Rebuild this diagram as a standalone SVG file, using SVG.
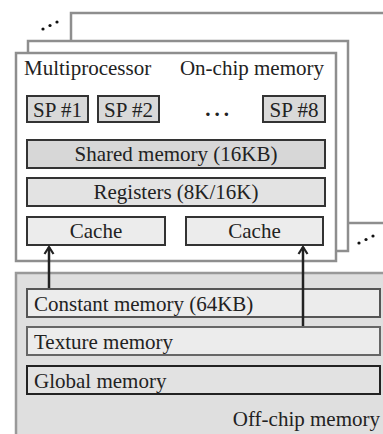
<svg xmlns="http://www.w3.org/2000/svg" width="383" height="434" viewBox="0 0 383 434" font-family="'Liberation Serif', 'Times New Roman', serif">
  <defs>
    <style>
      text { font-family: 'Liberation Serif', 'Times New Roman', serif; font-size: 21px; fill: #222; }
      .frame { fill: #fff; stroke: #8e8e8e; stroke-width: 2.5; }
      .box { stroke: #333; stroke-width: 2; }
      .dot { fill: #111; }
      .conn { stroke: #222; stroke-width: 2.5; fill: none; }
    </style>
    <marker id="arr" viewBox="0 0 12 12" refX="10" refY="6" markerWidth="12" markerHeight="12" markerUnits="userSpaceOnUse" orient="auto">
      <polyline points="3,1.5 10,6 3,10.5" fill="none" stroke="#222" stroke-width="2.2"/>
    </marker>
  </defs>

  <g id="offchip">
    <rect x="16" y="273" width="380" height="170" fill="#dfdfdf" stroke="#999" stroke-width="2.5"/>
    <text x="380" y="426" text-anchor="end">Off-chip memory</text>
  </g>

  <g id="frame-back">
    <rect class="frame" x="71" y="13" width="330" height="210"/>
    <circle class="dot" cx="359" cy="243" r="1.6"/>
    <circle class="dot" cx="366" cy="239.5" r="1.6"/>
    <circle class="dot" cx="373" cy="236" r="1.6"/>
  </g>
  <g id="frame-middle">
    <rect class="frame" x="28" y="41" width="320" height="210"/>
    <circle class="dot" cx="43" cy="29" r="1.6"/>
    <circle class="dot" cx="50" cy="25.5" r="1.6"/>
    <circle class="dot" cx="57" cy="22" r="1.6"/>
  </g>
  <g id="multiprocessor">
    <rect class="frame" x="16" y="53" width="320" height="208"/>
    <text x="24" y="75">Multiprocessor</text>
    <text x="324" y="75" text-anchor="end">On-chip memory</text>
  </g>

  <g id="sp1">
    <rect class="box" x="27" y="96" width="61" height="26" fill="#d9d9d9"/>
    <text x="57.5" y="117" text-anchor="middle">SP #1</text>
  </g>
  <g id="sp2">
    <rect class="box" x="98" y="96" width="61" height="26" fill="#d9d9d9"/>
    <text x="128.5" y="117" text-anchor="middle">SP #2</text>
  </g>
  <g id="sp-ellipsis">
    <text x="219" y="116" text-anchor="middle" font-weight="bold" letter-spacing="4">...</text>
  </g>
  <g id="sp8">
    <rect class="box" x="263" y="96" width="62" height="26" fill="#d9d9d9"/>
    <text x="294" y="117" text-anchor="middle">SP #8</text>
  </g>

  <g id="shared">
    <rect class="box" x="27" y="140" width="298" height="28" fill="#d7d7d7"/>
    <text x="176" y="161" text-anchor="middle">Shared memory (16KB)</text>
  </g>
  <g id="registers">
    <rect class="box" x="27" y="178" width="298" height="28" fill="#e3e3e3"/>
    <text x="176" y="199" text-anchor="middle">Registers (8K/16K)</text>
  </g>
  <g id="cache1">
    <rect class="box" x="27" y="217" width="138" height="28" fill="#ececec"/>
    <text x="96" y="238" text-anchor="middle">Cache</text>
  </g>
  <g id="cache2">
    <rect class="box" x="186" y="217" width="137" height="28" fill="#ececec"/>
    <text x="254.5" y="238" text-anchor="middle">Cache</text>
  </g>

  <g id="constant">
    <rect x="27" y="289" width="353" height="28" fill="#ececec" stroke="#555" stroke-width="2"/>
    <text x="34" y="311">Constant memory (64KB)</text>
  </g>
  <g id="texture">
    <rect x="27" y="327" width="353" height="28" fill="#ececec" stroke="#666" stroke-width="2"/>
    <text x="34" y="349">Texture memory</text>
  </g>
  <g id="global">
    <rect x="27" y="366" width="353" height="28" fill="#e2e2e2" stroke="#222" stroke-width="2"/>
    <text x="34" y="388">Global memory</text>
  </g>

  <g id="connectors">
    <line class="conn" x1="49" y1="288" x2="49" y2="247" marker-end="url(#arr)"/>
    <line class="conn" x1="303" y1="326" x2="303" y2="247" marker-end="url(#arr)"/>
  </g>
</svg>
